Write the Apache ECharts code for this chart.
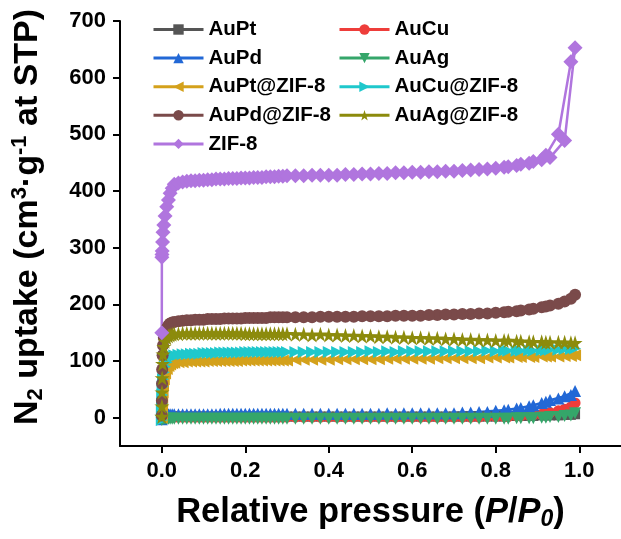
<!DOCTYPE html>
<html>
<head>
<meta charset="utf-8">
<script src="https://cdn.jsdelivr.net/npm/echarts@6/dist/echarts.min.js"></script>
<style>
  html, body { margin: 0; padding: 0; background: #ffffff; }
  #chart { width: 621px; height: 539px; }
</style>
</head>
<body>
<div id="chart"></div>
<script>
// Relative pressure points of the adsorption branch and of the desorption branch
const pAds = [
  0.0001, 0.0003, 0.0006, 0.001, 0.002, 0.003, 0.005, 0.008, 0.012, 0.016, 0.02, 0.025, 0.03,
  0.04, 0.05, 0.06, 0.07, 0.08, 0.09, 0.10, 0.11, 0.12, 0.13, 0.14, 0.15, 0.16, 0.17, 0.18, 0.19,
  0.20, 0.21, 0.22, 0.23, 0.24, 0.25, 0.26, 0.27, 0.28, 0.29, 0.30,
  0.34, 0.38, 0.42, 0.46, 0.50, 0.54, 0.58, 0.62, 0.66, 0.70, 0.74, 0.78, 0.82, 0.85, 0.88, 0.91, 0.93, 0.965, 0.99
];
const pDes = [
  0.98, 0.95, 0.92, 0.89, 0.86, 0.83, 0.80, 0.76, 0.72, 0.68, 0.64, 0.60, 0.56, 0.52, 0.48, 0.44, 0.40, 0.36, 0.32
];

// N2 uptake (cm3/g STP), adsorption then desorption, per sample
const auptAds = [
  -2, 0, 1, 1, 2, 2, 2, 2, 2, 2, 2, 2, 2,
  2, 2, 2, 2, 2, 2, 2, 2, 2, 2, 2, 2, 2, 2, 2, 2, 2, 2, 2, 2, 2, 2, 2, 2, 2, 2, 2,
  2, 2, 2, 2, 2, 2, 2, 2, 2, 2, 2, 2, 2, 3, 3, 4, 4, 5, 6
];
const auptDes = [5, 4, 4, 3, 3, 3, 2, 2, 2, 2, 2, 2, 2, 2, 2, 2, 2, 2, 2];

const aucuAds = [
  -3, -2, -1, 0, 0, 0, 0, 1, 1, 1, 1, 1, 1,
  1, 1, 1, 1, 1, 1, 1, 1, 1, 1, 1, 1, 1, 1, 1, 1, 1, 1, 1, 1, 1, 1, 1, 1, 1, 1, 1,
  1, 1, 1, 1, 1, 1, 1, 1, 1, 1, 1, 2, 2, 3, 4, 6, 9, 15, 26
];
const aucuDes = [19, 12, 8, 5, 3, 2, 2, 1, 1, 1, 1, 1, 1, 1, 1, 1, 1, 1, 1];

const aupdAds = [
  -3, 0, 2, 3, 4, 5, 5, 6, 6, 6, 6, 6, 6,
  6, 6, 6, 6, 6, 6, 6, 6, 6, 6, 7, 7, 7, 7, 7, 7, 7, 7, 7, 7, 7, 7, 7, 7, 7, 7, 7,
  7, 7, 7, 7, 7, 8, 8, 8, 8, 8, 9, 10, 13, 16, 20, 26, 31, 38, 47
];
const aupdDes = [40, 34, 28, 22, 17, 14, 12, 10, 9, 8, 8, 8, 7, 7, 7, 7, 7, 7, 7];

const auagAds = [
  -4, -3, -3, -2, -2, -2, -2, -2, -2, -2, -2, -2, -2,
  -2, -2, -2, -2, -2, -2, -2, -2, -2, -2, -2, -2, -2, -2, -2, -2, -2, -2, -2, -2, -2, -2, -2, -2, -2, -2, -2,
  -2, -2, -2, -2, -2, -2, -2, -2, -2, -2, -2, -2, -2, -1, -1, 0, 1, 3, 8
];
const auagDes = [4, 1, 0, -1, -1, -2, -2, -2, -2, -2, -2, -2, -2, -2, -2, -2, -2, -2, -2];

const auptZifAds = [
  0, 8, 18, 30, 45, 57, 68, 78, 86, 91, 94, 96, 97,
  98, 98, 99, 99, 99, 99, 99, 100, 100, 100, 100, 100, 100, 100, 100,
  101, 101, 101, 101, 101, 101, 101, 101, 101, 101, 101, 101,
  102, 102, 103, 103, 103, 104, 104, 104, 105, 105, 105, 106, 106, 107, 107, 108, 108, 109, 110
];
const auptZifDes = [109, 108, 108, 107, 107, 106, 106, 105, 105, 105, 104, 104, 104, 103, 103, 103, 102, 102, 102];

const aucuZifAds = [
  -4, 10, 25, 40, 55, 68, 80, 90, 98, 103, 106, 108, 110,
  111, 112, 112, 113, 113, 113, 114, 114, 114, 114, 115, 115, 115, 115, 115, 115,
  116, 116, 116, 116, 116, 116, 116, 116, 116, 116, 116,
  116, 116, 116, 116, 117, 117, 117, 117, 117, 117, 117, 118, 118, 118, 119, 119, 120, 121, 122
];
const aucuZifDes = [121, 120, 119, 118, 118, 118, 117, 117, 117, 117, 117, 117, 116, 116, 116, 116, 116, 116, 116];

const aupdZifAds = [
  4, 30, 60, 85, 110, 128, 141, 151, 158, 163, 166, 168, 169,
  170, 171, 172, 172, 173, 173, 173, 174, 174, 174, 174, 175, 175, 175, 175,
  175, 176, 176, 176, 176, 176, 176, 177, 177, 177, 177, 177,
  177, 178, 178, 178, 179, 179, 180, 180, 181, 182, 183, 184, 186, 188, 191, 195, 198, 205, 217
];
const aupdZifDes = [210, 201, 196, 192, 189, 187, 185, 184, 183, 182, 181, 180, 180, 179, 179, 178, 178, 177, 177];

const auagZifAds = [
  2, 20, 45, 70, 95, 112, 125, 135, 141, 144, 146, 147, 148,
  148, 149, 149, 149, 149, 149, 149, 149, 149, 149, 149, 149, 149, 149, 149,
  149, 148, 148, 148, 148, 148, 148, 148, 148, 148, 148, 148,
  147, 147, 146, 145, 144, 143, 142, 141, 140, 139, 138, 137, 136, 135, 134, 134, 133, 133, 132
];
const auagZifDes = [132, 133, 133, 134, 135, 136, 136, 137, 138, 139, 140, 141, 142, 143, 144, 145, 146, 146, 147];

const zifAds = [
  150, 283, 288, 294, 310, 327, 340, 356, 372, 384, 396, 405, 412,
  414, 416, 417, 418, 418, 419, 419, 420, 420, 421, 421, 421, 422, 422, 422,
  423, 423, 423, 424, 424, 424, 425, 425, 425, 426, 426, 427,
  427, 428, 428, 429, 430, 431, 432, 433, 434, 435, 437, 439, 442, 445, 449, 455, 459, 489, 653
];
const zifDes = [628, 500, 463, 452, 447, 443, 440, 438, 436, 435, 434, 433, 432, 431, 430, 429, 428, 428, 427];

// Axis tick positions
const xTicks = [0, 0.2, 0.4, 0.6, 0.8, 1.0];
const yTicks = [0, 100, 200, 300, 400, 500, 600, 700];

// Legend columns
const legendLeft = ['AuPt', 'AuPd', 'AuPt@ZIF-8', 'AuPd@ZIF-8', 'ZIF-8'];
const legendRight = ['AuCu', 'AuAg', 'AuCu@ZIF-8', 'AuAg@ZIF-8'];

const FONT = '"Liberation Sans", Arial, Helvetica, sans-serif';
const STAR = 'path://M50,0 L61.2,34.5 L97.6,34.5 L68.2,55.9 L79.4,90.5 L50,69.1 L20.6,90.5 L31.8,55.9 L2.4,34.5 L38.8,34.5 Z';
const TRI_DOWN = 'path://M0,0 L100,0 L50,87 Z';
const TRI_LEFT = 'path://M0,50 L87,0 L87,100 Z';
const TRI_RIGHT = 'path://M87,50 L0,0 L0,100 Z';

const samples = [
  { name: 'AuPt',       color: '#555555', symbol: 'rect',     size: 10, ads: auptAds,    des: auptDes },
  { name: 'AuCu',       color: '#ee3d3a', symbol: 'circle',   size: 11, ads: aucuAds,    des: aucuDes },
  { name: 'AuPd',       color: '#2268d6', symbol: 'triangle', size: 12, ads: aupdAds,    des: aupdDes },
  { name: 'AuAg',       color: '#35a66a', symbol: TRI_DOWN,   size: 12, ads: auagAds,    des: auagDes },
  { name: 'AuPt@ZIF-8', color: '#d4a11b', symbol: TRI_LEFT,   size: 12, ads: auptZifAds, des: auptZifDes },
  { name: 'AuCu@ZIF-8', color: '#1fc8cc', symbol: TRI_RIGHT,  size: 12, ads: aucuZifAds, des: aucuZifDes },
  { name: 'AuPd@ZIF-8', color: '#7a4a4a', symbol: 'circle',   size: 12, ads: aupdZifAds, des: aupdZifDes },
  { name: 'AuAg@ZIF-8', color: '#8c8b0c', symbol: STAR,       size: 15, ads: auagZifAds, des: auagZifDes },
  { name: 'ZIF-8',      color: '#b075de', symbol: 'diamond',  size: 15, ads: zifAds,     des: zifDes }
];

function pairs(p, v) { return p.map((x, i) => [x, v[i]]); }

const series = samples.map(s => ({
  type: 'line',
  name: s.name,
  data: pairs(pAds, s.ads).concat(pairs(pDes, s.des)),
  symbol: s.symbol,
  symbolSize: s.size,
  showSymbol: true,
  showAllSymbol: true,
  clip: false,
  lineStyle: { color: s.color, width: 2.5 },
  itemStyle: { color: s.color, borderWidth: 0 },
  emphasis: { disabled: true }
}));

const legendText = { fontSize: 20.5, fontWeight: 'bold', fontFamily: FONT, color: '#000', lineHeight: 20 };
const legendBase = {
  orient: 'vertical', top: 19, padding: 0, itemWidth: 50, itemHeight: 13, itemGap: 7.6,
  selectedMode: false, textStyle: legendText, lineStyle: { width: 3 }
};

const chart = echarts.init(document.getElementById('chart'), null, { renderer: 'canvas' });
chart.setOption({
  animation: false,
  backgroundColor: '#ffffff',
  grid: { left: 120, right: -2, top: 21, bottom: 93, containLabel: false },
  legend: [
    Object.assign({}, legendBase, { left: 152, data: legendLeft }),
    Object.assign({}, legendBase, { left: 338, data: legendRight })
  ],
  xAxis: {
    type: 'value', min: -0.1, max: 1.1,
    axisLine: { onZero: false, lineStyle: { color: '#000', width: 2 } },
    axisTick: { show: true, inside: false, length: 7, lineStyle: { color: '#000', width: 2 }, customValues: xTicks },
    axisLabel: {
      customValues: xTicks, margin: 14, color: '#000', fontSize: 22, fontWeight: 'bold', fontFamily: FONT,
      formatter: v => v.toFixed(1)
    },
    splitLine: { show: false },
    name: '{m|Relative pressure (}{i|P}{m|/}{i|P}{s|0}{m|)}',
    nameLocation: 'middle', nameGap: 47,
    nameTextStyle: {
      rich: {
        m: { fontSize: 34.5, fontWeight: 'bold', fontFamily: FONT, color: '#000', lineHeight: 38 },
        i: { fontSize: 34.5, fontWeight: 'bold', fontStyle: 'italic', fontFamily: FONT, color: '#000', lineHeight: 38 },
        s: { fontSize: 23, fontWeight: 'bold', fontStyle: 'italic', fontFamily: FONT, color: '#000', lineHeight: 23, verticalAlign: 'bottom' }
      }
    }
  },
  yAxis: {
    type: 'value', min: -50, max: 700,
    axisLine: { onZero: false, lineStyle: { color: '#000', width: 2 } },
    axisTick: { show: true, inside: false, length: 7, lineStyle: { color: '#000', width: 2 }, customValues: yTicks },
    axisLabel: { customValues: yTicks, margin: 14, color: '#000', fontSize: 22, fontWeight: 'bold', fontFamily: FONT },
    splitLine: { show: false }
  },
  graphic: [{
    type: 'text',
    x: 28, y: 217,
    rotation: Math.PI / 2,
    style: {
      text: '{m|N}{s|2}{m| uptake (cm}{p|3}{m|·g}{p|-1}{m| at STP)}',
      align: 'center', verticalAlign: 'middle',
      rich: {
        m: { fontSize: 34, fontWeight: 'bold', fontFamily: FONT, fill: '#000', lineHeight: 38 },
        s: { fontSize: 22, fontWeight: 'bold', fontFamily: FONT, fill: '#000', lineHeight: 22, verticalAlign: 'bottom' },
        p: { fontSize: 22, fontWeight: 'bold', fontFamily: FONT, fill: '#000', lineHeight: 22, verticalAlign: 'top' }
      }
    }
  }],
  series: series
});
</script>
</body>
</html>
